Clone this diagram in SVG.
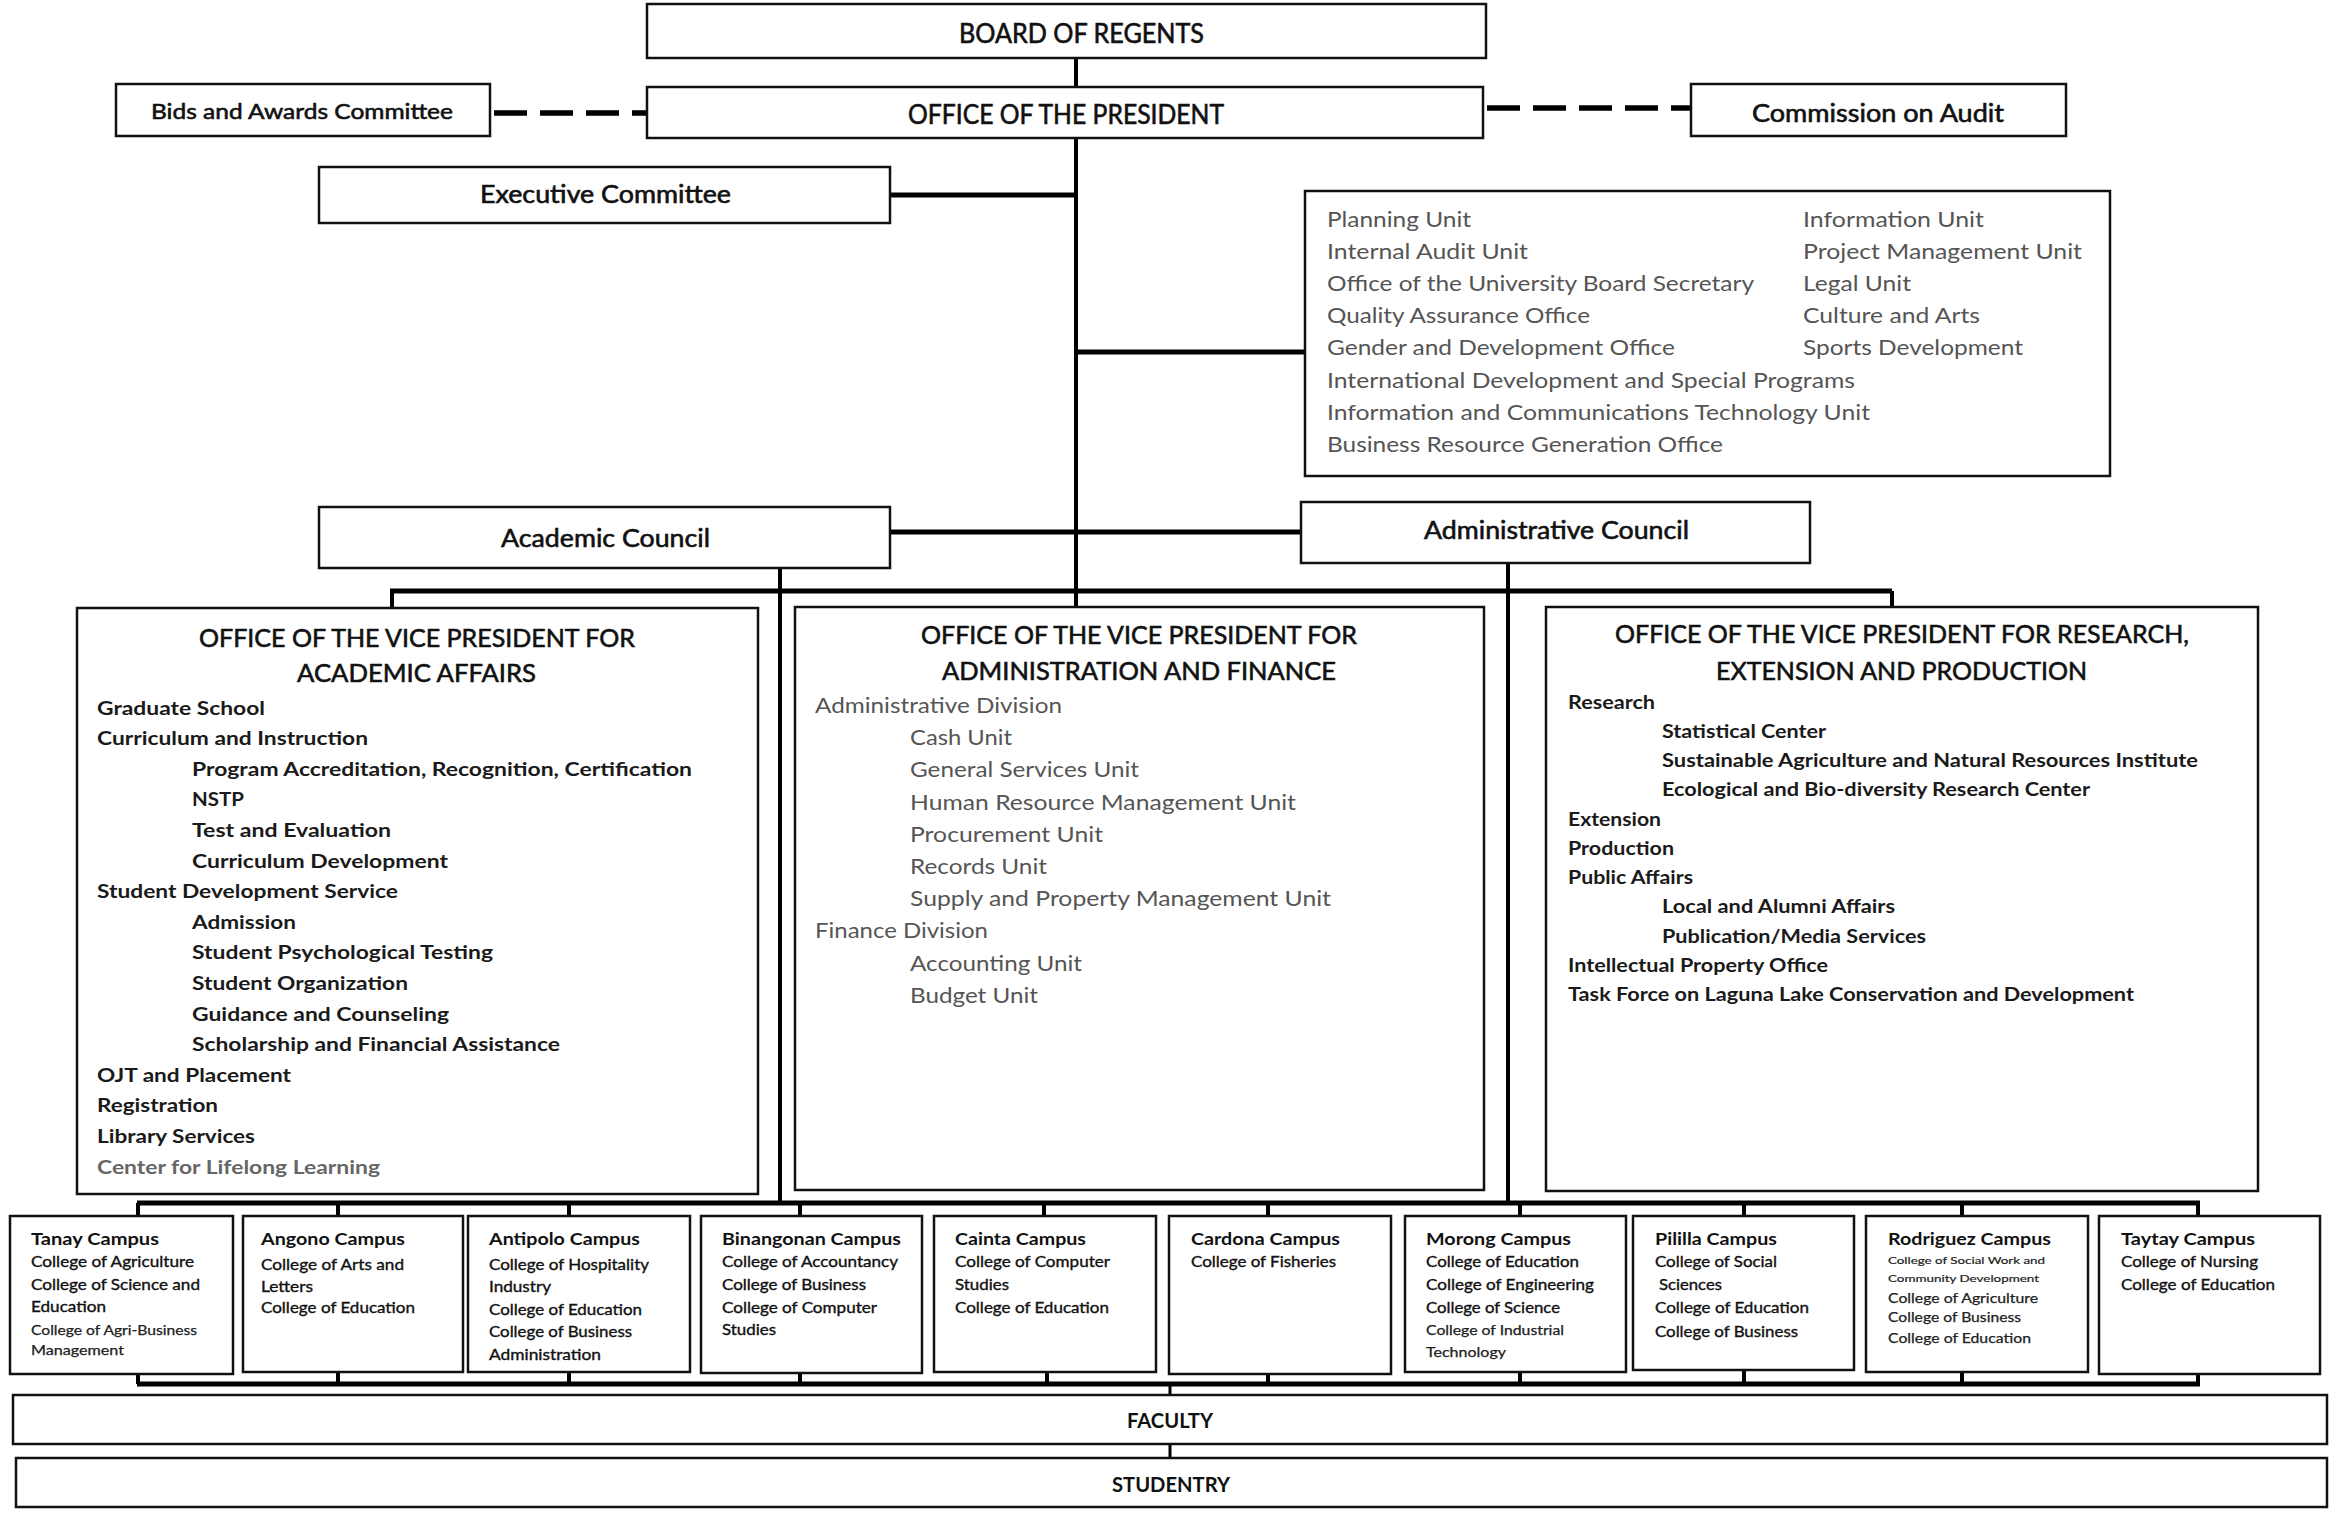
<svg xmlns="http://www.w3.org/2000/svg" width="2340" height="1516" viewBox="0 0 2340 1516">
<style>
text{font-family:Lato,"Liberation Sans",sans-serif;}
.box{fill:#fff;stroke:#111;stroke-width:2.5}
.ln{stroke:#000;stroke-width:4;fill:none}
.bus{stroke:#000;stroke-width:5;fill:none}
.dash{stroke:#000;stroke-width:5.5;fill:none;stroke-dasharray:33 13}
.h{font-size:26px;fill:#111;stroke:#111;stroke-width:0.6}
.ul{font-size:20.5px;fill:#555}
.al{font-size:19.5px;font-weight:700;fill:#1a1a1a}
.dl{font-size:22px;fill:#555}
.rl{font-size:19.5px;font-weight:700;fill:#1a1a1a}
.ct{font-size:17px;font-weight:700;fill:#111}
.ci{font-size:15px;fill:#111;stroke:#111;stroke-width:0.35}
.cs{font-size:12.5px;fill:#222;stroke:#222;stroke-width:0.25}
.cx{font-size:10px;fill:#222;stroke:#222;stroke-width:0.2}
.fs{font-size:21px;font-weight:700;fill:#111}
</style>
<rect width="2340" height="1516" fill="#fff"/>
<g id="connectors">
<path class="ln" d="M1076 58V87M1076 138V607"/>
<path class="bus" d="M890 195H1076M1076 352H1305M890 532H1301"/>
<path class="ln" d="M780 568V1203M1508 563V1203"/>
<path class="bus" d="M390 591H1892"/>
<path class="ln" d="M392 591V608M1892 591V607"/>
<path class="bus" d="M137 1203H2200M137 1384H2200"/>
<path class="ln" d="M138 1203V1216M338 1203V1216M569 1203V1216M800 1203V1216M1044 1203V1216M1268 1203V1216M1520 1203V1216M1744 1203V1216M1962 1203V1216M2198 1203V1216"/>
<path class="ln" d="M138 1370V1384M338 1370V1384M569 1370V1384M800 1370V1384M1047 1370V1384M1268 1370V1384M1520 1370V1384M1744 1370V1384M1962 1370V1384M2198 1370V1384"/>
<path class="ln" d="M1170 1384V1395M1170 1444V1458" style="stroke-width:3"/>
<path class="dash" d="M494 113H647"/>
<path class="dash" d="M1487 108H1691"/>
</g>
<g id="board"><rect class="box" x="647" y="4" width="839" height="54"/><text class="h" x="959" y="43" font-size="27" textLength="245" lengthAdjust="spacingAndGlyphs">BOARD OF REGENTS</text></g>
<g id="president"><rect class="box" x="647" y="87" width="836" height="51"/><text class="h" x="908" y="124" textLength="316" lengthAdjust="spacingAndGlyphs">OFFICE OF THE PRESIDENT</text></g>
<g id="bids"><rect class="box" x="116" y="84" width="374" height="52"/><text class="h" x="151" y="119" style="font-size:22px" textLength="302" lengthAdjust="spacingAndGlyphs">Bids and Awards Committee</text></g>
<g id="coa"><rect class="box" x="1691" y="84" width="375" height="52"/><text class="h" x="1752" y="122" style="font-size:24.5px" textLength="252" lengthAdjust="spacingAndGlyphs">Commission on Audit</text></g>
<g id="exec"><rect class="box" x="319" y="167" width="571" height="56"/><text class="h" x="480" y="203" style="font-size:24.5px" textLength="251" lengthAdjust="spacingAndGlyphs">Executive Committee</text></g>
<g id="units"><rect class="box" x="1305" y="191" width="805" height="285"/>
<text class="ul" x="1327" y="227" textLength="144" lengthAdjust="spacingAndGlyphs">Planning Unit</text>
<text class="ul" x="1327" y="259" textLength="201" lengthAdjust="spacingAndGlyphs">Internal Audit Unit</text>
<text class="ul" x="1327" y="291" textLength="427" lengthAdjust="spacingAndGlyphs">Office of the University Board Secretary</text>
<text class="ul" x="1327" y="323" textLength="263" lengthAdjust="spacingAndGlyphs">Quality Assurance Office</text>
<text class="ul" x="1327" y="355" textLength="348" lengthAdjust="spacingAndGlyphs">Gender and Development Office</text>
<text class="ul" x="1327" y="388" textLength="528" lengthAdjust="spacingAndGlyphs">International Development and Special Programs</text>
<text class="ul" x="1327" y="420" textLength="543" lengthAdjust="spacingAndGlyphs">Information and Communications Technology Unit</text>
<text class="ul" x="1327" y="452" textLength="396" lengthAdjust="spacingAndGlyphs">Business Resource Generation Office</text>
<text class="ul" x="1803" y="227" textLength="181" lengthAdjust="spacingAndGlyphs">Information Unit</text>
<text class="ul" x="1803" y="259" textLength="279" lengthAdjust="spacingAndGlyphs">Project Management Unit</text>
<text class="ul" x="1803" y="291" textLength="108" lengthAdjust="spacingAndGlyphs">Legal Unit</text>
<text class="ul" x="1803" y="323" textLength="177" lengthAdjust="spacingAndGlyphs">Culture and Arts</text>
<text class="ul" x="1803" y="355" textLength="220" lengthAdjust="spacingAndGlyphs">Sports Development</text>
</g>
<g id="academic-council"><rect class="box" x="319" y="507" width="571" height="61"/><text class="h" x="501" y="547" style="font-size:25px" textLength="209" lengthAdjust="spacingAndGlyphs">Academic Council</text></g>
<g id="admin-council"><rect class="box" x="1301" y="502" width="509" height="61"/><text class="h" x="1424" y="539" style="font-size:24.5px" textLength="265" lengthAdjust="spacingAndGlyphs">Administrative Council</text></g>
<g id="vp-academic"><rect class="box" x="77" y="608" width="681" height="586"/>
<text class="h" x="199" y="646.5" style="font-size:25.5px" textLength="436" lengthAdjust="spacingAndGlyphs">OFFICE OF THE VICE PRESIDENT FOR</text>
<text class="h" x="297" y="682" style="font-size:25.5px" textLength="239" lengthAdjust="spacingAndGlyphs">ACADEMIC AFFAIRS</text>
<text class="al" x="97" y="714.5" textLength="168" lengthAdjust="spacingAndGlyphs">Graduate School</text>
<text class="al" x="97" y="745.1" textLength="271" lengthAdjust="spacingAndGlyphs">Curriculum and Instruction</text>
<text class="al" x="192" y="775.7" textLength="500" lengthAdjust="spacingAndGlyphs">Program Accreditation, Recognition, Certification</text>
<text class="al" x="192" y="806.3" textLength="52" lengthAdjust="spacingAndGlyphs">NSTP</text>
<text class="al" x="192" y="836.9" textLength="199" lengthAdjust="spacingAndGlyphs">Test and Evaluation</text>
<text class="al" x="192" y="867.5" textLength="256" lengthAdjust="spacingAndGlyphs">Curriculum Development</text>
<text class="al" x="97" y="898.1" textLength="301" lengthAdjust="spacingAndGlyphs">Student Development Service</text>
<text class="al" x="192" y="928.7" textLength="104" lengthAdjust="spacingAndGlyphs">Admission</text>
<text class="al" x="192" y="959.3" textLength="301" lengthAdjust="spacingAndGlyphs">Student Psychological Testing</text>
<text class="al" x="192" y="989.9" textLength="216" lengthAdjust="spacingAndGlyphs">Student Organization</text>
<text class="al" x="192" y="1020.5" textLength="257" lengthAdjust="spacingAndGlyphs">Guidance and Counseling</text>
<text class="al" x="192" y="1051.1" textLength="368" lengthAdjust="spacingAndGlyphs">Scholarship and Financial Assistance</text>
<text class="al" x="97" y="1081.7" textLength="194" lengthAdjust="spacingAndGlyphs">OJT and Placement</text>
<text class="al" x="97" y="1112.3" textLength="121" lengthAdjust="spacingAndGlyphs">Registration</text>
<text class="al" x="97" y="1142.9" textLength="158" lengthAdjust="spacingAndGlyphs">Library Services</text>
<text class="al" x="97" y="1173.5" style="fill:#666" textLength="283" lengthAdjust="spacingAndGlyphs">Center for Lifelong Learning</text>
</g>
<g id="vp-admin"><rect class="box" x="795" y="607" width="689" height="583"/>
<text class="h" x="921" y="644" style="font-size:25.5px" textLength="436" lengthAdjust="spacingAndGlyphs">OFFICE OF THE VICE PRESIDENT FOR</text>
<text class="h" x="942" y="680" style="font-size:25.5px" textLength="394" lengthAdjust="spacingAndGlyphs">ADMINISTRATION AND FINANCE</text>
<text class="dl" x="815" y="713" textLength="247" lengthAdjust="spacingAndGlyphs">Administrative Division</text>
<text class="dl" x="910" y="745.2" textLength="102" lengthAdjust="spacingAndGlyphs">Cash Unit</text>
<text class="dl" x="910" y="777.4" textLength="229" lengthAdjust="spacingAndGlyphs">General Services Unit</text>
<text class="dl" x="910" y="809.6" textLength="386" lengthAdjust="spacingAndGlyphs">Human Resource Management Unit</text>
<text class="dl" x="910" y="841.8" textLength="193" lengthAdjust="spacingAndGlyphs">Procurement Unit</text>
<text class="dl" x="910" y="874" textLength="137" lengthAdjust="spacingAndGlyphs">Records Unit</text>
<text class="dl" x="910" y="906.2" textLength="421" lengthAdjust="spacingAndGlyphs">Supply and Property Management Unit</text>
<text class="dl" x="815" y="938.4" textLength="173" lengthAdjust="spacingAndGlyphs">Finance Division</text>
<text class="dl" x="910" y="970.6" textLength="172" lengthAdjust="spacingAndGlyphs">Accounting Unit</text>
<text class="dl" x="910" y="1002.8" textLength="128" lengthAdjust="spacingAndGlyphs">Budget Unit</text>
</g>
<g id="vp-research"><rect class="box" x="1546" y="607" width="712" height="584"/>
<text class="h" x="1615" y="643" style="font-size:25.5px" textLength="574" lengthAdjust="spacingAndGlyphs">OFFICE OF THE VICE PRESIDENT FOR RESEARCH,</text>
<text class="h" x="1716" y="680" style="font-size:25.5px" textLength="371" lengthAdjust="spacingAndGlyphs">EXTENSION AND PRODUCTION</text>
<text class="rl" x="1568" y="708.6" textLength="87" lengthAdjust="spacingAndGlyphs">Research</text>
<text class="rl" x="1662" y="737.9" textLength="164" lengthAdjust="spacingAndGlyphs">Statistical Center</text>
<text class="rl" x="1662" y="767.1" textLength="536" lengthAdjust="spacingAndGlyphs">Sustainable Agriculture and Natural Resources Institute</text>
<text class="rl" x="1662" y="796.4" textLength="428" lengthAdjust="spacingAndGlyphs">Ecological and Bio-diversity Research Center</text>
<text class="rl" x="1568" y="825.6" textLength="93" lengthAdjust="spacingAndGlyphs">Extension</text>
<text class="rl" x="1568" y="854.9" textLength="106" lengthAdjust="spacingAndGlyphs">Production</text>
<text class="rl" x="1568" y="884.1" textLength="125" lengthAdjust="spacingAndGlyphs">Public Affairs</text>
<text class="rl" x="1662" y="913.4" textLength="233" lengthAdjust="spacingAndGlyphs">Local and Alumni Affairs</text>
<text class="rl" x="1662" y="942.6" textLength="264" lengthAdjust="spacingAndGlyphs">Publication/Media Services</text>
<text class="rl" x="1568" y="971.9" textLength="260" lengthAdjust="spacingAndGlyphs">Intellectual Property Office</text>
<text class="rl" x="1568" y="1001.1" textLength="566" lengthAdjust="spacingAndGlyphs">Task Force on Laguna Lake Conservation and Development</text>
</g>
<g id="tanay"><rect class="box" x="10" y="1216" width="223" height="158"/>
<text class="ct" x="31" y="1245" textLength="128" lengthAdjust="spacingAndGlyphs">Tanay Campus</text>
<text class="ci" x="31" y="1267" textLength="163" lengthAdjust="spacingAndGlyphs">College of Agriculture</text>
<text class="ci" x="31" y="1290" textLength="169" lengthAdjust="spacingAndGlyphs">College of Science and</text>
<text class="ci" x="31" y="1312" textLength="75" lengthAdjust="spacingAndGlyphs">Education</text>
<text class="cs" x="31" y="1335" textLength="166" lengthAdjust="spacingAndGlyphs">College of Agri-Business</text>
<text class="cs" x="31" y="1355" textLength="93" lengthAdjust="spacingAndGlyphs">Management</text>
</g>
<g id="angono"><rect class="box" x="243" y="1216" width="220" height="156"/>
<text class="ct" x="261" y="1245" textLength="144" lengthAdjust="spacingAndGlyphs">Angono Campus</text>
<text class="ci" x="261" y="1270" textLength="143" lengthAdjust="spacingAndGlyphs">College of Arts and</text>
<text class="ci" x="261" y="1292" textLength="52" lengthAdjust="spacingAndGlyphs">Letters</text>
<text class="ci" x="261" y="1313" textLength="154" lengthAdjust="spacingAndGlyphs">College of Education</text>
</g>
<g id="antipolo"><rect class="box" x="468" y="1216" width="222" height="156"/>
<text class="ct" x="489" y="1245" textLength="151" lengthAdjust="spacingAndGlyphs">Antipolo Campus</text>
<text class="ci" x="489" y="1270" textLength="160" lengthAdjust="spacingAndGlyphs">College of Hospitality</text>
<text class="ci" x="489" y="1292" textLength="62" lengthAdjust="spacingAndGlyphs">Industry</text>
<text class="ci" x="489" y="1315" textLength="153" lengthAdjust="spacingAndGlyphs">College of Education</text>
<text class="ci" x="489" y="1337" textLength="143" lengthAdjust="spacingAndGlyphs">College of Business</text>
<text class="ci" x="489" y="1360" textLength="112" lengthAdjust="spacingAndGlyphs">Administration</text>
</g>
<g id="binangonan"><rect class="box" x="701" y="1216" width="221" height="157"/>
<text class="ct" x="722" y="1245" textLength="179" lengthAdjust="spacingAndGlyphs">Binangonan Campus</text>
<text class="ci" x="722" y="1267" textLength="176" lengthAdjust="spacingAndGlyphs">College of Accountancy</text>
<text class="ci" x="722" y="1290" textLength="144" lengthAdjust="spacingAndGlyphs">College of Business</text>
<text class="ci" x="722" y="1313" textLength="155" lengthAdjust="spacingAndGlyphs">College of Computer</text>
<text class="ci" x="722" y="1335" textLength="54" lengthAdjust="spacingAndGlyphs">Studies</text>
</g>
<g id="cainta"><rect class="box" x="934" y="1216" width="222" height="156"/>
<text class="ct" x="955" y="1245" textLength="131" lengthAdjust="spacingAndGlyphs">Cainta Campus</text>
<text class="ci" x="955" y="1267" textLength="155" lengthAdjust="spacingAndGlyphs">College of Computer</text>
<text class="ci" x="955" y="1290" textLength="54" lengthAdjust="spacingAndGlyphs">Studies</text>
<text class="ci" x="955" y="1313" textLength="154" lengthAdjust="spacingAndGlyphs">College of Education</text>
</g>
<g id="cardona"><rect class="box" x="1169" y="1216" width="222" height="158"/>
<text class="ct" x="1191" y="1245" textLength="149" lengthAdjust="spacingAndGlyphs">Cardona Campus</text>
<text class="ci" x="1191" y="1267" textLength="145" lengthAdjust="spacingAndGlyphs">College of Fisheries</text>
</g>
<g id="morong"><rect class="box" x="1405" y="1216" width="221" height="156"/>
<text class="ct" x="1426" y="1245" textLength="145" lengthAdjust="spacingAndGlyphs">Morong Campus</text>
<text class="ci" x="1426" y="1267" textLength="153" lengthAdjust="spacingAndGlyphs">College of Education</text>
<text class="ci" x="1426" y="1290" textLength="168" lengthAdjust="spacingAndGlyphs">College of Engineering</text>
<text class="ci" x="1426" y="1313" textLength="134" lengthAdjust="spacingAndGlyphs">College of Science</text>
<text class="cs" x="1426" y="1335" textLength="138" lengthAdjust="spacingAndGlyphs">College of Industrial</text>
<text class="cs" x="1426" y="1357" textLength="80" lengthAdjust="spacingAndGlyphs">Technology</text>
</g>
<g id="pililla"><rect class="box" x="1633" y="1216" width="221" height="154"/>
<text class="ct" x="1655" y="1245" textLength="122" lengthAdjust="spacingAndGlyphs">Pililla Campus</text>
<text class="ci" x="1655" y="1267" textLength="122" lengthAdjust="spacingAndGlyphs">College of Social</text>
<text class="ci" x="1659" y="1290" textLength="63" lengthAdjust="spacingAndGlyphs">Sciences</text>
<text class="ci" x="1655" y="1313" textLength="154" lengthAdjust="spacingAndGlyphs">College of Education</text>
<text class="ci" x="1655" y="1337" textLength="143" lengthAdjust="spacingAndGlyphs">College of Business</text>
</g>
<g id="rodriguez"><rect class="box" x="1866" y="1216" width="222" height="156"/>
<text class="ct" x="1888" y="1245" textLength="163" lengthAdjust="spacingAndGlyphs">Rodriguez Campus</text>
<text class="cx" x="1888" y="1264" textLength="157" lengthAdjust="spacingAndGlyphs">College of Social Work and</text>
<text class="cx" x="1888" y="1282" textLength="151" lengthAdjust="spacingAndGlyphs">Community Development</text>
<text class="cs" x="1888" y="1303" textLength="150" lengthAdjust="spacingAndGlyphs">College of Agriculture</text>
<text class="cs" x="1888" y="1322" textLength="133" lengthAdjust="spacingAndGlyphs">College of Business</text>
<text class="cs" x="1888" y="1343" textLength="143" lengthAdjust="spacingAndGlyphs">College of Education</text>
</g>
<g id="taytay"><rect class="box" x="2099" y="1216" width="221" height="158"/>
<text class="ct" x="2121" y="1245" textLength="134" lengthAdjust="spacingAndGlyphs">Taytay Campus</text>
<text class="ci" x="2121" y="1267" textLength="137" lengthAdjust="spacingAndGlyphs">College of Nursing</text>
<text class="ci" x="2121" y="1290" textLength="154" lengthAdjust="spacingAndGlyphs">College of Education</text>
</g>
<g id="faculty"><rect class="box" x="13" y="1395" width="2314" height="49"/><text class="fs" x="1127" y="1428" textLength="86" lengthAdjust="spacingAndGlyphs">FACULTY</text></g>
<g id="studentry"><rect class="box" x="16" y="1458" width="2311" height="49"/><text class="fs" x="1112" y="1492" textLength="118" lengthAdjust="spacingAndGlyphs">STUDENTRY</text></g>
</svg>
